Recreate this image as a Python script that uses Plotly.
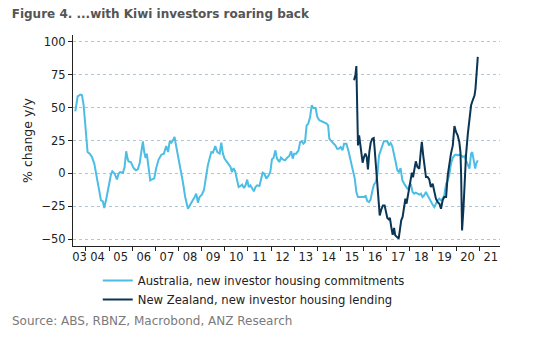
import plotly.graph_objects as go

# ---- data (decimal year, % change y/y) ----
aus_x = [2003.54, 2003.64, 2003.76, 2003.83, 2003.90, 2003.97, 2004.07, 2004.16, 2004.26, 2004.36,
         2004.47, 2004.59, 2004.65, 2004.73, 2004.79, 2004.88, 2004.98, 2005.08, 2005.14, 2005.24,
         2005.34, 2005.41, 2005.48, 2005.60, 2005.67, 2005.74, 2005.80, 2005.84, 2005.94, 2006.06,
         2006.16, 2006.24, 2006.32, 2006.39, 2006.46, 2006.52, 2006.58, 2006.63, 2006.71, 2006.78,
         2006.85, 2006.95, 2007.04, 2007.14, 2007.26, 2007.37, 2007.47, 2007.55, 2007.62, 2007.69,
         2007.76, 2007.83, 2007.88, 2007.98, 2008.09, 2008.19, 2008.29, 2008.41, 2008.53, 2008.63,
         2008.70, 2008.77, 2008.84, 2008.91, 2009.01, 2009.10, 2009.20, 2009.27, 2009.35, 2009.42,
         2009.49, 2009.59, 2009.68, 2009.78, 2009.85, 2009.92, 2009.99, 2010.08, 2010.17, 2010.25,
         2010.31, 2010.38, 2010.45, 2010.53, 2010.60, 2010.68, 2010.75, 2010.83, 2010.90, 2010.97,
         2011.04, 2011.11, 2011.19, 2011.26, 2011.33, 2011.40, 2011.50, 2011.57, 2011.64, 2011.71,
         2011.80, 2011.90, 2011.97, 2012.04, 2012.11, 2012.19, 2012.26, 2012.36, 2012.43, 2012.51,
         2012.61, 2012.69, 2012.79, 2012.87, 2012.94, 2013.00, 2013.09, 2013.19, 2013.26, 2013.33,
         2013.40, 2013.47, 2013.54, 2013.61, 2013.69, 2013.76, 2013.83, 2013.93, 2014.00, 2014.09,
         2014.19, 2014.29, 2014.40, 2014.47, 2014.52, 2014.58, 2014.68, 2014.78, 2014.86, 2014.93,
         2015.01, 2015.09, 2015.16, 2015.26, 2015.36, 2015.45, 2015.55, 2015.62, 2015.69, 2015.76,
         2015.83, 2015.94, 2016.02, 2016.09, 2016.17, 2016.24, 2016.31, 2016.37, 2016.45, 2016.53,
         2016.60, 2016.67, 2016.74, 2016.81, 2016.88, 2016.96, 2017.03, 2017.10, 2017.17, 2017.24,
         2017.32, 2017.39, 2017.46, 2017.53, 2017.60, 2017.68, 2017.78, 2017.85, 2017.92, 2017.99,
         2018.04, 2018.12, 2018.19, 2018.26, 2018.33, 2018.41, 2018.48, 2018.55, 2018.62, 2018.70,
         2018.77, 2018.84, 2018.91, 2018.99, 2019.06, 2019.13, 2019.20, 2019.28, 2019.35, 2019.42,
         2019.49, 2019.57, 2019.64, 2019.71, 2019.78, 2019.86, 2019.93, 2020.00, 2020.07, 2020.14,
         2020.22, 2020.29, 2020.36, 2020.43, 2020.51, 2020.58, 2020.65, 2020.70, 2020.75, 2020.83,
         2020.87, 2020.94]
aus_y = [47.2, 58.6, 59.9, 59.4, 51.8, 34.0, 16.2, 15.0, 12.4, 7.4,
         -4.0, -16.8, -20.6, -21.3, -26.4, -19.3, -9.1, -1.0, 1.5, -0.3,
         -4.6, -0.3, 1.0, 0.5, 4.8, 16.8, 11.2, 9.1, 8.6, 4.0,
         2.3, 3.0, 7.4, 17.5, 24.4, 16.2, 11.7, 15.0, 2.3, -5.3,
         -4.6, -4.0, 4.2, 10.5, 14.2, 15.0, 20.8, 16.2, 24.4, 23.3,
         25.1, 27.7, 22.6, 13.7, 2.3, -6.6, -18.0, -26.9, -23.1, -20.6,
         -18.0, -15.5, -22.3, -18.0, -16.2, -12.9, -1.5, 6.1, 11.7, 16.2,
         15.7, 20.8, 16.2, 15.0, 23.3, 15.0, 11.2, 9.1, 7.4, 4.8,
         1.0, 4.0, 1.5, -4.0, -10.4, -9.6, -8.6, -11.2, -9.1, -4.8,
         -10.4, -9.1, -11.7, -13.7, -10.4, -9.1, -9.6, -4.0, 0.5, -0.3,
         -4.0, -1.5, 1.0, 10.7, 11.7, 17.5, 11.2, 8.6, 12.0, 10.7,
         9.9, 11.7, 13.2, 16.8, 11.2, 15.0, 15.0, 17.5, 23.9, 24.4,
         22.6, 23.9, 36.5, 37.8, 42.9, 51.8, 49.7, 49.7, 42.9, 40.4,
         39.6, 38.6, 37.8, 36.5, 26.4, 25.1, 23.3, 21.3, 18.8, 18.8,
         20.0, 17.5, 22.6, 22.6, 16.2, 9.9, 1.0, -4.0, -14.2, -18.0,
         -18.0, -18.0, -18.0, -17.3, -21.3, -21.8, -19.8, -14.2, -8.6, -6.6,
         -1.0, 13.7, 17.5, 21.3, 24.4, 24.4, 24.4, 21.3, 23.1, 20.8,
         15.0, 8.6, 2.3, 1.0, 4.0, -5.3, -8.6, -10.4, -12.2, -9.0,
         -7.9, -14.2, -15.5, -14.7, -15.5, -16.2, -15.5, -18.0, -16.8, -14.2,
         -16.8, -19.3, -21.8, -23.9, -25.6, -23.1, -20.6, -19.3, -20.6, -19.3,
         -16.8, -7.9, -5.3, -1.0, 7.4, 11.7, 13.7, 14.2, 13.7, 14.2,
         13.7, 12.4, 13.2, 9.9, 6.1, 3.6, 15.0, 16.2, 11.2, 3.6,
         7.4, 9.9]

nz_x = [2015.59, 2015.65, 2015.69, 2015.73, 2015.76, 2015.81, 2015.85, 2015.91, 2015.96, 2016.02,
        2016.08, 2016.14, 2016.19, 2016.25, 2016.31, 2016.38, 2016.44, 2016.48, 2016.55, 2016.63,
        2016.70, 2016.77, 2016.84, 2016.91, 2016.97, 2017.03, 2017.09, 2017.14, 2017.20, 2017.26,
        2017.32, 2017.37, 2017.45, 2017.52, 2017.58, 2017.63, 2017.69, 2017.75, 2017.81, 2017.86,
        2017.92, 2017.98, 2018.04, 2018.09, 2018.14, 2018.19, 2018.26, 2018.33, 2018.41, 2018.48,
        2018.52, 2018.58, 2018.65, 2018.70, 2018.77, 2018.84, 2018.91, 2018.99, 2019.06, 2019.13,
        2019.20, 2019.28, 2019.35, 2019.42, 2019.49, 2019.57, 2019.64, 2019.71, 2019.78, 2019.86,
        2019.93, 2020.00, 2020.07, 2020.14, 2020.19, 2020.22, 2020.26, 2020.32, 2020.38, 2020.43,
        2020.51, 2020.58, 2020.65, 2020.72, 2020.80, 2020.84, 2020.90, 2020.94]
nz_y = [70.8, 75.1, 81.7, 54.3, 21.3, 28.9, 23.9, 13.7, 8.1, 12.4,
        15.0, 12.4, 3.0, 16.2, 23.3, 26.4, 26.9, 18.8, 3.6, -16.8,
        -32.0, -27.4, -24.4, -24.4, -28.2, -34.0, -35.0, -34.0, -40.9, -46.7,
        -41.6, -47.2, -48.5, -49.7, -42.1, -35.8, -33.2, -26.9, -19.3, -23.1,
        -16.8, -9.1, -3.0, 0.5, -3.0, 2.3, 9.1, 4.8, 3.6, 17.5,
        23.9, 13.7, 2.3, -2.8, -2.8, -4.6, -10.4, -7.9, -13.7, -19.3,
        -21.8, -23.1, -26.9, -20.6, -18.0, -18.0, -1.5, 8.6, 15.0, 21.3,
        36.0, 31.5, 28.9, 23.9, 16.2, -1.5, -43.4, -26.9, -4.0, 13.7,
        30.2, 40.4, 51.8, 55.6, 59.4, 64.5, 77.2, 88.6]

years = list(range(2004, 2022))
year_labels = ["03"] + [str(y)[2:] for y in years]
y_ticks = [-50, -25, 0, 25, 50, 75, 100]

FONT = "DejaVu Sans"

fig = go.Figure()
fig.add_trace(go.Scatter(x=aus_x, y=aus_y, mode="lines",
                         name="Australia, new investor housing commitments",
                         line=dict(color="#4cbde4", width=2)))
fig.add_trace(go.Scatter(x=nz_x, y=nz_y, mode="lines",
                         name="New Zealand, new investor housing lending",
                         line=dict(color="#0b3554", width=2)))

fig.update_layout(
    width=533, height=344,
    margin=dict(l=73, r=33, t=35, b=98),
    paper_bgcolor="white", plot_bgcolor="white",
    font=dict(family=FONT, size=11, color="#222222"),
    title=dict(text="<b>Figure 4. ...with Kiwi investors roaring back</b>",
               x=0.022, xanchor="left", y=0.96, yanchor="middle",
               font=dict(family=FONT, size=12, color="#555555")),
    showlegend=True,
    legend=dict(x=0.058, xanchor="left", y=-0.095, yanchor="top",
                orientation="v", font=dict(family=FONT, size=11.6, color="#222222"),
                bgcolor="rgba(0,0,0,0)", itemwidth=30, tracegroupgap=0),
    xaxis=dict(range=[2003.44, 2021.9],
               tickmode="array",
               tickvals=[2003.72] + [y + 0.5 for y in years],
               ticktext=year_labels,
               ticks="", showgrid=False, zeroline=False,
               showline=True, linecolor="#222222", linewidth=1,
               minor=dict(tickmode="array", tickvals=years, ticks="outside",
                          ticklen=4, tickcolor="#222222", showgrid=False),
               tickfont=dict(size=11.5)),
    yaxis=dict(range=[-55.3, 105.3],
               tickmode="array", tickvals=y_ticks,
               ticks="outside", ticklen=4, tickcolor="#222222",
               showline=True, linecolor="#222222", linewidth=1,
               showgrid=True, gridcolor="#b2c6d2", griddash="dot", gridwidth=1,
               zeroline=False,
               title=dict(text="% change y/y", font=dict(size=12.5), standoff=6),
               tickfont=dict(size=11.5)),
    annotations=[dict(text="Source: ABS, RBNZ, Macrobond, ANZ Research",
                      xref="paper", yref="paper", x=-0.148, y=-0.355,
                      xanchor="left", yanchor="middle", showarrow=False,
                      font=dict(family=FONT, size=12, color="#7a7a7a"))],
)

fig.write_html("out.html")
